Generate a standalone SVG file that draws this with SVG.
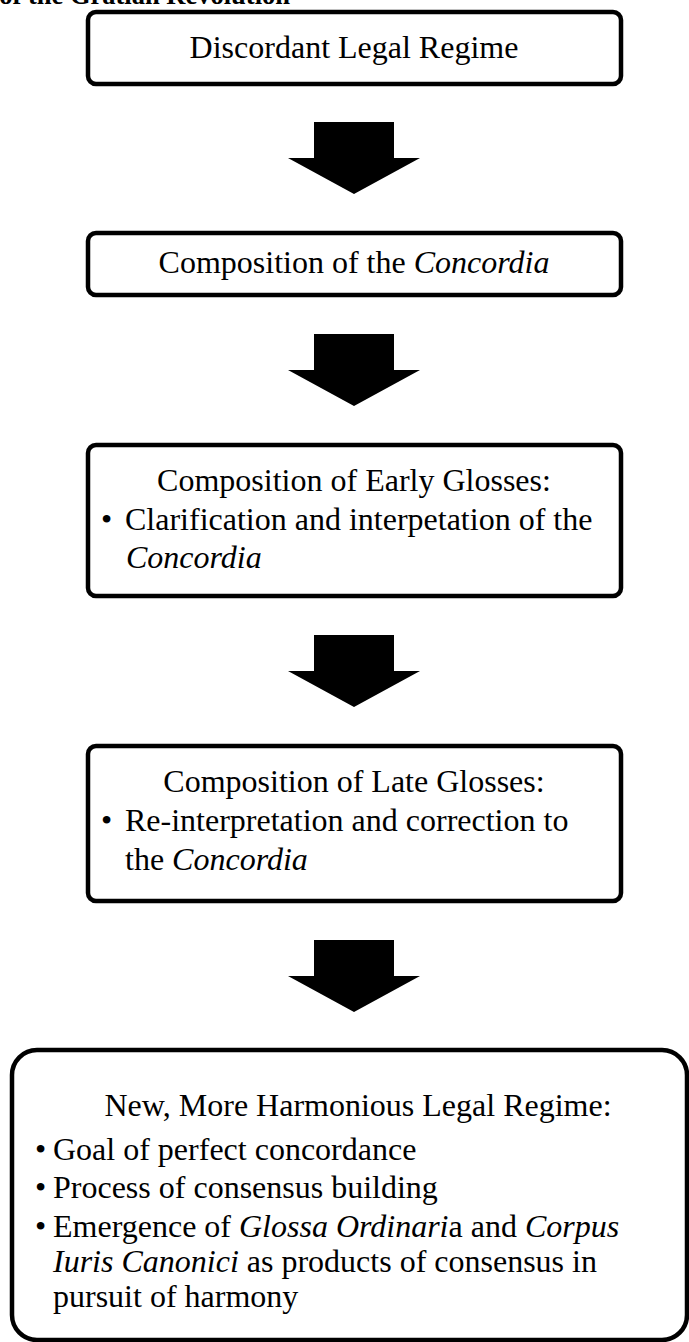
<svg xmlns="http://www.w3.org/2000/svg" xmlns:xlink="http://www.w3.org/1999/xlink" width="689" height="1342" viewBox="0 0 689 1342">
<style>
  .box { fill: #ffffff; stroke: #000000; stroke-width: 4.5; }
  .t { font-family: "Liberation Serif", "Times New Roman", serif; font-size: 32px; fill: #000000; }
  .c { text-anchor: middle; }
  .i { font-style: italic; }
  .title { font-family: "Liberation Serif", "Times New Roman", serif; font-size: 26.5px; font-weight: bold; fill: #000000; }
  .arrow { fill: #000000; stroke: none; }
</style>
<defs>
  <path id="downArrow" class="arrow" d="M-40,0 H40 V36 H66 L0,72 L-66,36 H-40 Z"/>
</defs>
<rect x="0" y="0" width="689" height="1342" fill="#ffffff"/>

<text class="title" x="290" y="4" text-anchor="end">of the Gratian Revolution</text>

<g id="node-discordant">
  <rect class="box" x="88" y="12" width="533" height="72" rx="8" ry="8"/>
  <text class="t c" x="354" y="58">Discordant Legal Regime</text>
</g>

<g id="node-concordia">
  <rect class="box" x="88" y="233" width="533" height="62" rx="8" ry="8"/>
  <text class="t c" x="354" y="273">Composition of the <tspan class="i">Concordia</tspan></text>
</g>

<g id="node-early-glosses">
  <rect class="box" x="88" y="445" width="533" height="151" rx="8" ry="8"/>
  <text class="t c" x="354" y="491">Composition of Early Glosses:</text>
  <text class="t" x="101" y="530">•</text>
  <text class="t" x="125" y="530">Clarification and interpetation of the</text>
  <text class="t i" x="126" y="568">Concordia</text>
</g>

<g id="node-late-glosses">
  <rect class="box" x="88" y="746" width="533" height="155" rx="8" ry="8"/>
  <text class="t c" x="354" y="792">Composition of Late Glosses:</text>
  <text class="t" x="101" y="831">•</text>
  <text class="t" x="125" y="831">Re-interpretation and correction to</text>
  <text class="t" x="125" y="870">the <tspan class="i">Concordia</tspan></text>
</g>

<g id="node-new-regime">
  <rect class="box" x="12" y="1050" width="675" height="290" rx="25" ry="25"/>
  <text class="t c" x="358" y="1116">New, More Harmonious Legal Regime:</text>
  <text class="t" x="35" y="1160">•</text>
  <text class="t" x="53" y="1160">Goal of perfect concordance</text>
  <text class="t" x="35" y="1198">•</text>
  <text class="t" x="53" y="1198">Process of consensus building</text>
  <text class="t" x="35" y="1237">•</text>
  <text class="t" x="53" y="1237">Emergence of <tspan class="i">Glossa Ordinari</tspan>a and <tspan class="i">Corpus</tspan></text>
  <text class="t" x="53" y="1272"><tspan class="i">Iuris Canonici</tspan> as products of consensus in</text>
  <text class="t" x="53" y="1307">pursuit of harmony</text>
</g>

<g id="connectors">
  <use xlink:href="#downArrow" href="#downArrow" x="354" y="122"/>
  <use xlink:href="#downArrow" href="#downArrow" x="354" y="334"/>
  <use xlink:href="#downArrow" href="#downArrow" x="354" y="635"/>
  <use xlink:href="#downArrow" href="#downArrow" x="354" y="940"/>
</g>
</svg>
